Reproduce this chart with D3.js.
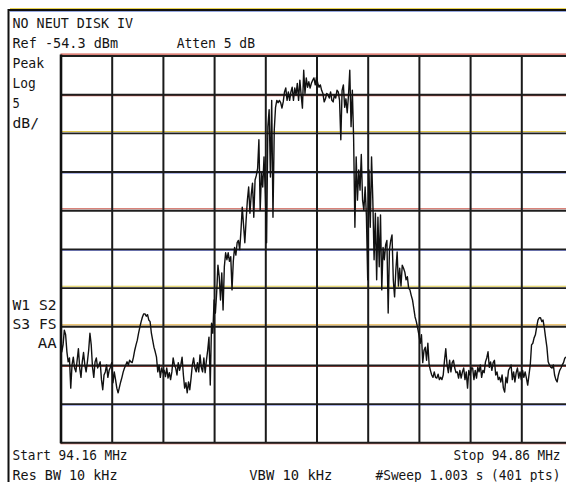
<!DOCTYPE html>
<html><head><meta charset="utf-8">
<script src="https://cdn.jsdelivr.net/npm/d3@7"></script>
<style>
html,body{margin:0;padding:0;background:#fff;}
svg{display:block;}
text{font-family:"DejaVu Sans Mono",monospace;font-size:13px;fill:#141414;}
</style>
</head><body>
<svg id="c" width="566" height="482"></svg>
<script>
// ---- data ----
const startMHz = 94.16, stopMHz = 94.86;
const refLevelDbm = -54.3, dbPerDiv = 5, divisions = 10;
const sweepPoints = 401;
const traceDbm = [
-89.8,-92.6,-91.7,-89.8,-90.4,-92.6,-93.9,-93.4,-97.3,-94.3,
-93.3,-94.7,-95.2,-93.7,-92.2,-94.7,-95.9,-93.9,-92.7,-94.3,
-95.2,-93.9,-92.4,-90.2,-91.7,-94.6,-95.9,-93.9,-93.4,-94.7,
-94.3,-93.9,-96.2,-97.5,-95.6,-95.2,-94.3,-95.9,-95.0,-94.6,
-94.0,-96.6,-95.2,-96.2,-97.3,-97.9,-97.2,-96.5,-95.9,-95.2,
-94.7,-94.3,-93.9,-94.3,-93.7,-93.9,-94.0,-93.3,-92.4,-91.7,
-91.1,-90.2,-89.4,-88.7,-88.1,-87.7,-87.7,-88.0,-87.8,-88.5,
-88.7,-90.2,-91.1,-92.0,-92.6,-93.3,-95.2,-94.3,-95.9,-94.7,
-95.3,-95.0,-95.8,-94.7,-96.0,-95.3,-96.2,-95.2,-93.4,-94.3,
-94.7,-95.6,-94.0,-95.0,-94.3,-93.3,-95.6,-97.3,-96.6,-97.9,
-96.5,-97.5,-96.0,-94.3,-93.4,-94.7,-95.2,-94.0,-95.2,-93.0,
-94.6,-95.2,-93.4,-95.3,-93.7,-92.4,-90.7,-96.9,-88.9,-90.2,
-85.9,-87.6,-85.0,-81.4,-82.9,-85.9,-82.4,-87.2,-81.6,-79.8,
-80.7,-79.8,-80.9,-80.3,-84.6,-80.9,-79.1,-80.1,-78.5,-78.2,
-79.4,-76.9,-73.9,-76.2,-78.5,-75.6,-73.0,-71.3,-74.7,-72.3,
-70.8,-75.2,-70.4,-69.8,-68.9,-65.2,-74.3,-69.5,-71.3,-67.4,
-72.1,-78.5,-63.5,-61.3,-70.0,-60.1,-75.2,-63.9,-61.0,-60.1,
-60.4,-60.1,-60.4,-61.1,-60.3,-59.0,-58.5,-60.1,-59.0,-60.1,
-59.0,-58.4,-60.1,-58.5,-59.4,-57.9,-60.1,-57.5,-59.4,-61.1,
-56.2,-59.2,-57.2,-58.4,-57.7,-58.5,-57.9,-57.5,-57.2,-58.1,
-57.1,-57.9,-58.4,-58.1,-58.8,-59.2,-60.3,-59.9,-59.2,-59.4,
-59.8,-59.0,-60.1,-60.3,-59.4,-59.8,-58.8,-59.0,-60.1,-65.2,
-58.8,-58.1,-61.0,-59.9,-61.7,-59.4,-56.2,-63.5,-58.8,-65.0,
-76.5,-67.4,-73.0,-69.1,-71.7,-67.1,-73.0,-74.3,-71.3,-75.1,
-83.3,-69.1,-76.5,-67.4,-73.0,-80.7,-74.7,-83.3,-75.2,-81.6,
-74.9,-84.6,-79.1,-80.7,-78.8,-78.2,-87.6,-79.4,-78.2,-77.5,
-83.3,-85.5,-82.0,-79.7,-84.1,-81.8,-84.1,-81.4,-81.8,-82.3,
-83.3,-82.9,-84.4,-84.6,-85.3,-85.9,-87.0,-88.1,-88.7,-89.5,
-90.4,-91.5,-90.4,-94.0,-92.4,-92.0,-93.7,-91.5,-94.3,-95.0,
-95.6,-95.9,-95.2,-95.9,-96.0,-95.5,-96.2,-95.9,-96.2,-95.6,
-93.7,-92.2,-94.3,-95.3,-93.7,-95.2,-94.0,-93.7,-94.7,-95.3,
-95.2,-96.0,-95.0,-96.0,-95.2,-94.7,-96.2,-95.2,-97.3,-95.0,
-95.6,-94.7,-94.7,-96.2,-95.0,-96.0,-94.6,-95.2,-94.3,-95.9,
-95.0,-95.3,-93.9,-93.4,-92.6,-94.6,-93.9,-95.0,-94.0,-93.7,
-95.6,-95.2,-96.2,-95.9,-96.5,-95.6,-97.3,-97.8,-95.9,-96.6,
-95.0,-94.7,-94.3,-96.2,-95.2,-96.5,-95.3,-94.7,-96.0,-95.2,
-96.2,-95.0,-95.9,-95.2,-96.0,-96.9,-95.6,-94.3,-91.7,-91.5,
-90.8,-90.4,-89.4,-88.5,-88.2,-88.2,-88.7,-88.5,-89.5,-90.8,
-92.0,-93.9,-94.3,-94.6,-94.7,-94.3,-95.6,-96.2,-96.5,-95.6,
-95.0,-94.7,-94.3,-94.0,-93.4,-93.3,-93.6,-94.2,-93.8,-94.5,
-94.0
];
const titleLabel = "NO NEUT DISK IV";
const refLabel = "Ref -54.3 dBm";
const attenLabel = "Atten 5 dB";
const scaleLabels = ["Peak", "Log", "5", "dB/"];
const statusLabels = ["W1 S2", "S3 FS", "AA"];
const startLabel = "Start 94.16 MHz";
const stopLabel = "Stop 94.86 MHz";
const rbwLabel = "Res BW 10 kHz";
const vbwLabel = "VBW 10 kHz";
const sweepLabel = "#Sweep 1.003 s (401 pts)";

// ---- layout / style ----
const L = 60.5, T = 55.5, W = 512, H = 386.8;
const svg = d3.select("#c");
const x = d3.scaleLinear().domain([startMHz, stopMHz]).range([L, L + W]);
const y = d3.scaleLinear().domain([refLevelDbm - dbPerDiv * divisions, refLevelDbm]).range([T + H, T]);

const xTicks = d3.range(divisions + 1).map(k => startMHz + k * (stopMHz - startMHz) / divisions);
const yTicks = d3.range(divisions + 1).map(k => refLevelDbm - k * dbPerDiv);

// outer screen frame
svg.append("line").attr("x1", 8.5).attr("x2", 8.5).attr("y1", 9).attr("y2", 482)
  .attr("stroke", "#111").attr("stroke-width", 2);
svg.append("line").attr("x1", 10).attr("x2", 566).attr("y1", 8.6).attr("y2", 8.6)
  .attr("stroke", "#e8d040").attr("stroke-width", 1);
svg.append("line").attr("x1", 8).attr("x2", 566).attr("y1", 10).attr("y2", 10)
  .attr("stroke", "#111").attr("stroke-width", 2);
svg.append("line").attr("x1", 10).attr("x2", 566).attr("y1", 11.4).attr("y2", 11.4)
  .attr("stroke", "#3050c0").attr("stroke-width", 0.8).attr("opacity", 0.7);

// horizontal grid tints (scanner colour fringes)
const tints = ["#c83020", "#c03020", "#d8b820", "#3848c0", "#c03020", "#3040c0",
               "#d8c020", "#e0a020", "#c83020", "#3040c0", "#c83020"];
const tintOff = [-1.4, 1.4, -1.4, 1.4, -1.4, 1.4, -1.4, -1.4, 1.4, 1.4, 1.4];
svg.append("g").selectAll("line").data(yTicks).join("line")
  .attr("x1", L).attr("x2", 566)
  .attr("y1", (d, i) => y(d) + tintOff[i]).attr("y2", (d, i) => y(d) + tintOff[i])
  .attr("stroke", (d, i) => tints[i]).attr("stroke-width", 1.1).attr("opacity", 0.8);

// grid via axes
const gx = svg.append("g").attr("transform", `translate(0,${T + H})`)
  .call(d3.axisBottom(x).tickValues(xTicks).tickSize(-H).tickFormat(""));
gx.select(".domain").remove();
gx.selectAll(".tick line").attr("stroke", "#1a1a1a").attr("stroke-width", 2);

const gy = svg.append("g").attr("transform", `translate(${L},0)`)
  .call(d3.axisLeft(y).tickValues(yTicks).tickSize(-W).tickFormat(""));
gy.select(".domain").remove();
gy.selectAll(".tick line").attr("stroke", "#1e1e1e").attr("stroke-width", 1.9);

// thicker left border of the graticule
svg.append("line").attr("x1", L + 0.5).attr("x2", L + 0.5).attr("y1", T - 1).attr("y2", T + H + 1)
  .attr("stroke", "#111").attr("stroke-width", 2.6);

// trace
svg.append("clipPath").attr("id", "clip").append("rect")
  .attr("x", L).attr("y", T - 20).attr("width", W).attr("height", H + 40);
const fAt = i => startMHz + i * (stopMHz - startMHz) / (sweepPoints - 1);
svg.append("path").datum(traceDbm)
  .attr("clip-path", "url(#clip)")
  .attr("fill", "none").attr("stroke", "#111").attr("stroke-width", 1.4)
  .attr("stroke-linejoin", "round")
  .attr("d", d3.line().x((d, i) => x(fAt(i))).y(d => y(d)));

// text: 13px mono stretched vertically to the analyser's tall glyphs
function label(str, x0, base, w) {
  svg.append("g").attr("transform", `translate(${x0},${base}) scale(1,1.15)`)
    .append("text").attr("x", 0).attr("y", 0)
    .attr("textLength", w).attr("lengthAdjust", "spacingAndGlyphs").text(str);
}
label(titleLabel, 12.5, 28.3, 120.6);
label(refLabel, 12.5, 48.3, 105.6);
label(attenLabel, 176.7, 48.3, 78.3);
const scaleW = [31.6, 23.3, 7.3, 26.6];
scaleLabels.forEach((s, i) => label(s, 12.5, 67.7 + i * 20, scaleW[i]));
label(statusLabels[0], 12.5, 310, 44);
label(statusLabels[1], 12.5, 329.3, 44);
label(statusLabels[2], 37.7, 348.3, 19);
label(startLabel, 12.5, 460, 115);
label(stopLabel, 453.5, 460, 107);
label(rbwLabel, 12.5, 479.5, 105);
label(vbwLabel, 249.3, 479.5, 83);
label(sweepLabel, 375.5, 479.5, 185);
</script>
</body></html>
